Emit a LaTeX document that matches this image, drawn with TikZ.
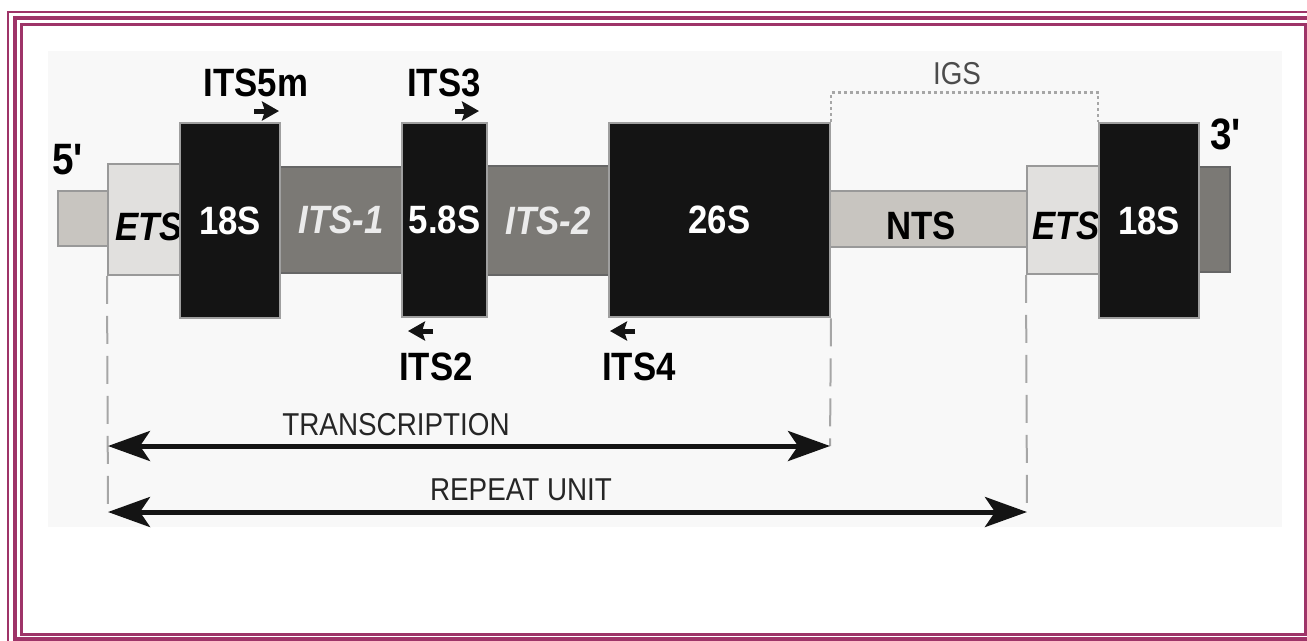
\documentclass[tikz,border=0pt]{standalone}
\usepackage{fontspec}
\setmainfont{Liberation Sans}[FakeStretch=0.88]
\usepackage{tikz}
\usetikzlibrary{arrows.meta,positioning,calc}
\definecolor{framecol}{RGB}{158,52,104}
\definecolor{spacercol}{RGB}{200,197,192}
\definecolor{etscol}{RGB}{225,224,222}
\definecolor{itscol}{RGB}{123,121,117}
\definecolor{panelcol}{RGB}{248,248,248}
\definecolor{rrnacol}{RGB}{20,20,20}

\begin{document}
\begin{tikzpicture}[
    x=0.02cm, y=-0.02cm,
    gene/.style={rectangle, draw=gray!75, line width=0.04cm, fill=rrnacol, minimum width=2cm, minimum height=3.9cm, inner sep=0pt, text=white, font=\fontsize{22.5}{26}\selectfont\bfseries},
    spacerbox/.style={rectangle, draw=gray!80, line width=0.04cm, inner sep=0pt, font=\fontsize{22.5}{26}\selectfont\bfseries},
    primer/.style={-{Stealth[length=0.34cm,width=0.38cm,inset=0.06cm]}, line width=0.1cm, draw=rrnacol},
    primerlbl/.style={font=\fontsize{22.5}{26}\selectfont\bfseries},
    endlbl/.style={font=\fontsize{25}{28}\selectfont\bfseries},
    spanarrow/.style={{Stealth[length=0.84cm,width=0.6cm,inset=0.2cm]}-{Stealth[length=0.84cm,width=0.6cm,inset=0.2cm]}, line width=0.1cm, draw=rrnacol},
    spanlbl/.style={font=\fontsize{18}{21}\selectfont, text=black!85},
    guide/.style={draw=gray!70, line width=0.04cm, dash pattern=on 0.56cm off 0.24cm},
    igsline/.style={draw=gray!70, line width=0.05cm, dash pattern=on 0.06cm off 0.06cm},
    >=Stealth
]
    \useasboundingbox (0,0) rectangle (1307,640);

    % frame and panel
    \draw[framecol, line width=0.04cm] (8,12) rectangle (1340,700);
    \draw[framecol, line width=0.08cm] (15,18) rectangle (1330,639);
    \draw[framecol, line width=0.06cm] (21.5,24.5) rectangle (1305.5,634.5);
    \fill[panelcol] (48,51) rectangle (1282,527);

    % spacers
    \node[spacerbox, fill=spacercol, minimum width=1cm, minimum height=1.1cm] (stub5) at (83,218.5) {};
    \node[spacerbox, fill=etscol, minimum width=1.48cm, minimum height=2.22cm] (ets1) at (145,219.5) {};
    \node[font=\fontsize{22.5}{26}\selectfont\bfseries\itshape] (ets1lbl) at (149,227) {ETS};
    \node[spacerbox, fill=itscol, draw=black!60, minimum width=2.44cm, minimum height=2.12cm, text=white!92!black, font=\fontsize{22.5}{26}\selectfont\bfseries\itshape] (its1) at (341,220) {ITS-1};
    \node[spacerbox, fill=itscol, draw=black!60, minimum width=2.44cm, minimum height=2.18cm, text=white!92!black, font=\fontsize{22.5}{26}\selectfont\bfseries\itshape] (its2) at (548,220.5) {ITS-2};
    \node[spacerbox, fill=spacercol, minimum width=3.94cm, minimum height=1.12cm] (nts) at (928.5,219) {};
    \node[font=\fontsize{22.5}{26}\selectfont\bfseries] (ntslbl) at (921,226) {NTS};
    \node[spacerbox, fill=etscol, minimum width=1.44cm, minimum height=2.16cm] (ets2) at (1063,220) {};
    \node[font=\fontsize{22.5}{26}\selectfont\bfseries\itshape] (ets2lbl) at (1066,226) {ETS};
    \node[spacerbox, fill=itscol, draw=black!60, minimum width=0.62cm, minimum height=2.1cm] (stub3) at (1214.5,219.5) {};

    % rRNA genes
    \node[gene] (r18a) at (230,220.5) {18S};
    \node[gene, minimum width=1.7cm] (r58) at (444.5,220) {5.8S};
    \node[gene, minimum width=4.42cm] (r26) at (719.5,220) {26S};
    \node[gene] (r18b) at (1149,220.5) {18S};

    % ends
    \node[endlbl] (five) at (68,160) {5\textquotesingle};
    \node[endlbl] (three) at (1226,134) {3\textquotesingle};

    % primers
    \coordinate (its5m-a) at (254,111);
    \coordinate (its3-a) at (455,111);
    \coordinate (its2-a) at (433,331);
    \coordinate (its4-a) at (635,331);
    \draw[primer] (its5m-a) -- ++(25,0);
    \draw[primer] (its3-a) -- ++(24,0);
    \draw[primer] (its2-a) -- ++(-25,0);
    \draw[primer] (its4-a) -- ++(-25,0);
    \node[primerlbl] (its5m) at (256,83) {ITS5m};
    \node[primerlbl] (its3) at (444,83) {ITS3};
    \node[primerlbl] (its2lbl) at (436,367) {ITS2};
    \node[primerlbl] (its4lbl) at (639,367) {ITS4};

    % IGS
    \draw[igsline] (r26.north east) -- ++(0,-29) -| (r18b.north west);
    \node[spanlbl, text=black!70] (igs) at (957,74) {IGS};

    % transcription and repeat unit
    \coordinate (tr-l) at (108,446);
    \coordinate (tr-r) at (830,446);
    \coordinate (ru-l) at (108,512);
    \coordinate (ru-r) at (1027,512);
    \draw[guide] (ets1.south west) -- (ru-l);
    \draw[guide] (r26.south east) -- (tr-r);
    \draw[guide] (ets2.south west) -- (ru-r);
    \draw[spanarrow] (tr-l) -- (tr-r);
    \draw[spanarrow] (ru-l) -- (ru-r);
    \node[spanlbl] (trlbl) at (396,425) {TRANSCRIPTION};
    \node[spanlbl] (rulbl) at (521,490) {REPEAT UNIT};
\end{tikzpicture}
\end{document}
